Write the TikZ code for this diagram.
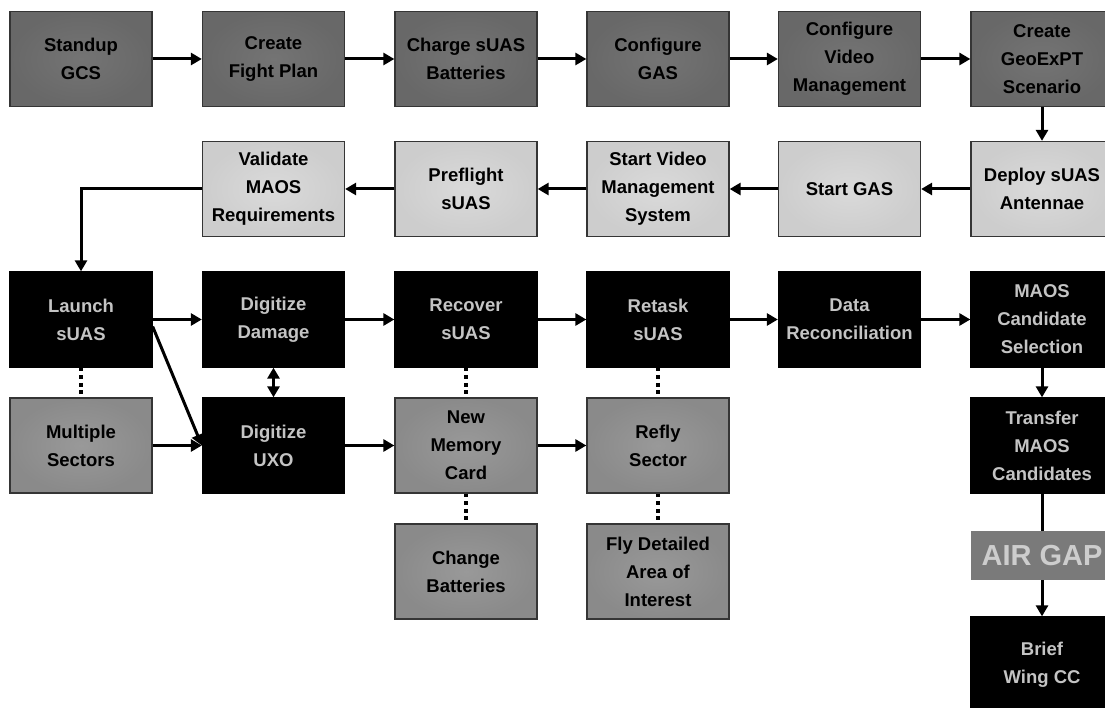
\documentclass[tikz,border=0pt]{standalone}
\usepackage{fontspec}
\setmainfont{Liberation Sans}
\usetikzlibrary{arrows.meta}
\definecolor{topfill}{HTML}{686868}
\definecolor{topin}{HTML}{747474}
\definecolor{prefill}{HTML}{CDCDCD}
\definecolor{prein}{HTML}{DADADA}
\definecolor{midfill}{HTML}{8A8A8A}
\definecolor{midin}{HTML}{999999}
\definecolor{edge}{HTML}{353535}
\definecolor{paletext}{HTML}{C4C4C4}
\tikzset{
  box/.style={rectangle, draw=edge, line width=1.3pt, minimum width=142pt,
    minimum height=95pt, inner sep=2pt, align=center,
    font=\bfseries\fontsize{18.5}{28}\selectfont},
  setup/.style={box, inner color=topin, outer color=topfill, text=black},
  prep/.style={box, inner color=prein, outer color=prefill, text=black},
  ops/.style={box, fill=black, draw=black, text=paletext},
  side/.style={box, inner color=midin, outer color=midfill, text=black},
  gapbox/.style={rectangle, fill=black!52, minimum width=142pt, minimum height=49pt,
    inner sep=0pt, text=paletext!85!white, font=\bfseries\fontsize{29}{32}\selectfont},
  tip/.tip={Triangle[length=11pt,width=12pt]},
  arr/.style={line width=3pt, -tip},
  darr/.style={line width=3pt, tip-tip},
  plain/.style={line width=3pt},
  dots/.style={line width=3.8pt, dash pattern=on 3.8pt off 3.8pt},
}
\begin{document}
\begin{tikzpicture}[x=1pt,y=-1pt]
\clip (0,0) rectangle (1105,708);
\fill[white] (0,0) rectangle (1105,708);

% setup row
\node[setup] (standup) at (81,59)    {Standup\\GCS};
\node[setup] (plan)    at (273.5,59) {Create\\Fight Plan};
\node[setup] (charge)  at (466,59)   {Charge sUAS\\Batteries};
\node[setup] (gas)     at (658,59)   {Configure\\GAS};
\node[setup] (video)   at (849.5,59) {Configure\\Video\\Management};
\node[setup] (geo)     at (1042,59)  {Create\\GeoExPT\\Scenario};

% preparation row (runs right to left)
\node[prep] (antenna)  at (1042,189) {Deploy sUAS\\Antennae};
\node[prep] (startgas) at (849.5,189) {Start GAS};
\node[prep] (startvid) at (658,189)   {Start Video\\Management\\System};
\node[prep] (preflt)   at (466,189)   {Preflight\\sUAS};
\node[prep] (validate) at (273.5,189) {Validate\\MAOS\\Requirements};

% operations row
\node[ops] (launch)  at (81,319.5)    {Launch\\sUAS};
\node[ops] (damage)  at (273.5,319.5) {Digitize\\Damage};
\node[ops] (recover) at (466,319.5)   {Recover\\sUAS};
\node[ops] (retask)  at (658,319.5)   {Retask\\sUAS};
\node[ops] (recon)   at (849.5,319.5) {Data\\Reconciliation};
\node[ops] (cand)    at (1042,319.5)  {MAOS\\Candidate\\Selection};

% second operations row
\node[side] (sectors) at (81,445.5)    {Multiple\\Sectors};
\node[ops]  (uxo)     at (273.5,445.5) {Digitize\\UXO};
\node[side] (memory)  at (466,445.5)   {New\\Memory\\Card};
\node[side] (refly)   at (658,445.5)   {Refly\\Sector};
\node[ops]  (transfer) at (1042,445.5) {Transfer\\MAOS\\Candidates};

% third row
\node[side] (batt)   at (466,571.5) {Change\\Batteries};
\node[side] (detail) at (658,571.5) {Fly Detailed\\Area of\\Interest};
\node[gapbox] (airgap) at (1042,555.5) {AIR GAP};
\node[ops] (brief) at (1042,664.5) {Brief\\Wing CC};

% setup flow
\draw[arr] (standup) -- (plan);
\draw[arr] (plan) -- (charge);
\draw[arr] (charge) -- (gas);
\draw[arr] (gas) -- (video);
\draw[arr] (video) -- (geo);
\draw[arr] (geo) -- (antenna);

% preparation flow
\draw[arr] (antenna) -- (startgas);
\draw[arr] (startgas) -- (startvid);
\draw[arr] (startvid) -- (preflt);
\draw[arr] (preflt) -- (validate);
\draw[arr] (validate.west) -| (launch.north);

% operations flow
\draw[arr] (launch) -- (damage);
\draw[arr] ([yshift=-7pt]launch.east) -- (uxo.west);
\draw[arr] (sectors) -- (uxo);
\draw[darr] (damage) -- (uxo);
\draw[arr] (damage) -- (recover);
\draw[arr] (uxo) -- (memory);
\draw[arr] (recover) -- (retask);
\draw[arr] (memory) -- (refly);
\draw[arr] (retask) -- (recon);
\draw[arr] (recon) -- (cand);
\draw[arr] (cand) -- (transfer);
\draw[plain] (transfer) -- (airgap);
\draw[arr] (airgap) -- (brief);

% dotted associations
\draw[dots] (launch) -- (sectors);
\draw[dots] (recover) -- (memory);
\draw[dots] (memory) -- (batt);
\draw[dots] (retask) -- (refly);
\draw[dots] (refly) -- (detail);
\end{tikzpicture}
\end{document}
